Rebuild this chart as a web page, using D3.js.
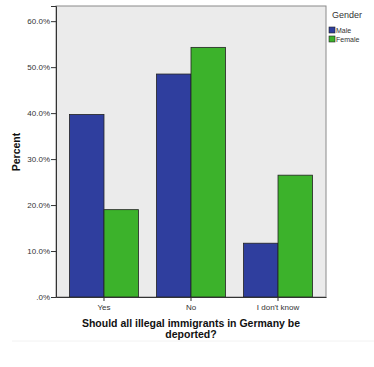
<!DOCTYPE html>
<html>
<head>
<script src="https://d3js.org/d3.v7.min.js"></script>
<style>
  body { margin: 0; background: #fff; }
  .tick text { font-family: "Liberation Sans", Arial, sans-serif; font-size: 8px; fill: #333; }
  .axis-title { font-family: "Liberation Sans", Arial, sans-serif; font-weight: bold; fill: #111; }
  .legend text { font-family: "Liberation Sans", Arial, sans-serif; fill: #333; }
</style>
</head>
<body>
<svg width="374" height="367"></svg>
<script>
// data
var categories = ["Yes", "No", "I don't know"];
var groups = ["Male", "Female"];
var male = [39.7, 48.5, 11.7];
var female = [19.0, 54.3, 26.5];
var yTicks = [0, 10, 20, 30, 40, 50, 60];

var colors = { Male: "#2f3e9e", Female: "#3cb22b" };

var svg = d3.select("svg");
var plotL = 56, plotR = 326, plotT = 6, plotB = 297;

var x0 = d3.scaleBand()
    .domain(categories)
    .range([plotL, plotR])
    .paddingInner(0.207)
    .paddingOuter(0.155);

var x1 = d3.scaleBand()
    .domain(groups)
    .range([0, x0.bandwidth()]);

var y = d3.scaleLinear()
    .domain([0, 63.3])
    .range([plotB, plotT]);

// plot background
svg.append("rect")
    .attr("x", plotL).attr("y", plotT)
    .attr("width", plotR - plotL).attr("height", plotB - plotT)
    .attr("fill", "#ebebeb")
    .attr("stroke", "#8a8a8a")
    .attr("stroke-width", 1);

var rows = categories.map(function(c, i) {
  return { cat: c, vals: [{ g: "Male", v: male[i] }, { g: "Female", v: female[i] }] };
});

svg.append("g")
  .selectAll("g")
  .data(rows)
  .enter().append("g")
    .attr("transform", function(d) { return "translate(" + x0(d.cat) + ",0)"; })
  .selectAll("rect")
  .data(function(d) { return d.vals; })
  .enter().append("rect")
    .attr("x", function(d) { return x1(d.g); })
    .attr("y", function(d) { return y(d.v); })
    .attr("width", x1.bandwidth())
    .attr("height", function(d) { return plotB - y(d.v); })
    .attr("fill", function(d) { return colors[d.g]; })
    .attr("stroke", "#222")
    .attr("stroke-width", 0.8);

// y axis
var yAxis = svg.append("g")
    .attr("transform", "translate(" + plotL + ",0)")
    .call(d3.axisLeft(y)
      .tickValues(yTicks)
      .tickSize(5)
      .tickPadding(1)
      .tickFormat(function(d) { return d === 0 ? ".0%" : d.toFixed(1) + "%"; }));
yAxis.select(".domain").attr("stroke", "#333");
yAxis.selectAll(".tick line").attr("stroke", "#333");

// x axis
var xAxis = svg.append("g")
    .attr("transform", "translate(0," + plotB + ")")
    .call(d3.axisBottom(x0).tickSize(4).tickPadding(3).tickSizeOuter(0));
xAxis.select(".domain").attr("stroke", "#333");
xAxis.selectAll(".tick line").attr("stroke", "#333");

// axis titles
svg.append("text")
    .attr("class", "axis-title")
    .attr("transform", "translate(20,152) rotate(-90)")
    .attr("text-anchor", "middle")
    .style("font-size", "10.5px")
    .text("Percent");

var xt = svg.append("text")
    .attr("class", "axis-title")
    .attr("text-anchor", "middle")
    .style("font-size", "10.5px");
xt.append("tspan").attr("x", 191).attr("y", 327).text("Should all illegal immigrants in Germany be");
xt.append("tspan").attr("x", 191).attr("y", 338).text("deported?");

// faint separator
svg.append("line")
    .attr("x1", 12).attr("x2", 374)
    .attr("y1", 341).attr("y2", 341)
    .attr("stroke", "#f2f2f2");

// legend
var lg = svg.append("g").attr("class", "legend");
lg.append("text").attr("x", 332).attr("y", 18).style("font-size", "9px").text("Gender");
groups.forEach(function(g, i) {
  lg.append("rect")
    .attr("x", 329).attr("y", 27 + i * 9)
    .attr("width", 6).attr("height", 6)
    .attr("fill", colors[g]).attr("stroke", "#222").attr("stroke-width", 0.6);
  lg.append("text")
    .attr("x", 336).attr("y", 33 + i * 9)
    .style("font-size", "7px")
    .text(g);
});
</script>
</body>
</html>
